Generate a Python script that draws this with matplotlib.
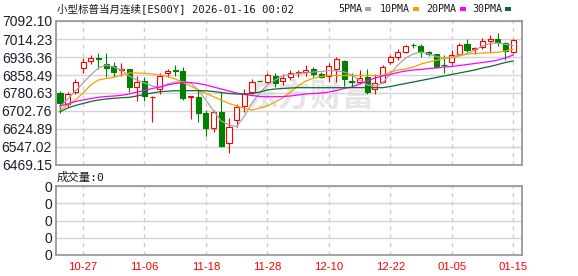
import matplotlib
matplotlib.use('Agg')
import matplotlib.pyplot as plt
from matplotlib.patches import Rectangle

# ── Data ────────────────────────────────────────────────────
dates = ['10-22', '10-23', '10-24', '10-27', '10-28', '10-29', '10-30', '10-31',
         '11-03', '11-04', '11-05', '11-06', '11-07', '11-10', '11-11', '11-12',
         '11-13', '11-14', '11-17', '11-18', '11-19', '11-20', '11-21', '11-24',
         '11-25', '11-26', '11-27', '11-28', '12-01', '12-02', '12-03', '12-04',
         '12-05', '12-08', '12-09', '12-10', '12-11', '12-12', '12-15', '12-16',
         '12-17', '12-18', '12-19', '12-22', '12-23', '12-24', '12-26', '12-29',
         '12-30', '12-31', '01-02', '01-05', '01-06', '01-07', '01-08', '01-09',
         '01-12', '01-13', '01-14', '01-15']

opens = [6778.5, 6735.2, 6783.7, 6887.5, 6916.9, 6929.9, 6906.1, 6898.7, 6880.1, 6884.5,
         6807.9, 6832.5, 6761.2, 6796.6, 6865.8, 6880.1, 6875.8, 6763.3, 6763.3, 6695.4,
         6627.9, 6699.7, 6563.0, 6661.7, 6724.4, 6782.8, 6833.4, 6829.5, 6854.2, 6833.8,
         6847.7, 6869.3, 6870.2, 6884.5, 6860.7, 6854.2, 6884.5, 6919.1, 6831.2, 6826.1,
         6851.1, 6797.9, 6828.2, 6913.4, 6934.2, 6959.3, 6989.1, 6982.6, 6958.0, 6947.2,
         6903.0, 6914.7, 6950.6, 6991.7, 6973.1, 6978.3, 7005.6, 7013.4, 6995.6, 6958.0]
highs = [6789.3, 6786.2, 6841.2, 6929.9, 6945.0, 6953.7, 6955.0, 6914.7, 6910.4, 6886.0,
         6854.2, 6849.8, 6768.9, 6867.1, 6883.2, 6899.6, 6893.1, 6767.6, 6793.6, 6705.8,
         6707.1, 6786.2, 6673.8, 6730.9, 6797.9, 6841.2, 6834.7, 6865.8, 6867.1, 6861.9,
         6880.1, 6880.1, 6903.9, 6894.4, 6872.8, 6910.4, 6936.4, 6923.4, 6865.8, 6880.1,
         6883.2, 6860.7, 6899.6, 6942.9, 6970.1, 6988.3, 6998.2, 6992.6, 6962.3, 6951.5,
         6942.9, 6966.6, 6994.8, 7012.9, 6980.9, 7019.8, 7031.5, 7041.0, 7002.5, 7013.4]
lows = [6694.1, 6720.1, 6775.0, 6869.3, 6906.1, 6886.6, 6851.1, 6848.5, 6854.2, 6786.2,
        6746.0, 6746.0, 6656.5, 6776.3, 6852.0, 6854.2, 6748.2, 6669.3, 6657.3, 6593.3,
        6613.2, 6548.3, 6522.4, 6633.5, 6698.4, 6775.0, 6830.4, 6822.6, 6806.6, 6813.9,
        6836.9, 6849.8, 6856.3, 6849.8, 6844.2, 6828.2, 6828.2, 6810.9, 6807.9, 6819.4,
        6776.3, 6775.0, 6823.9, 6906.1, 6923.4, 6955.0, 6974.0, 6937.7, 6942.0, 6892.2,
        6867.1, 6903.9, 6942.9, 6959.3, 6949.3, 6970.9, 6958.0, 6984.8, 6925.5, 6952.4]
closes = [6738.7, 6776.3, 6826.9, 6914.7, 6930.7, 6927.7, 6888.8, 6872.8, 6884.5, 6806.6,
          6828.2, 6767.7, 6764.6, 6854.2, 6875.8, 6877.1, 6760.3, 6766.3, 6695.4, 6627.9,
          6699.7, 6552.6, 6633.5, 6722.2, 6775.0, 6829.5, 6831.7, 6857.2, 6825.2, 6844.2,
          6869.3, 6872.8, 6880.1, 6862.8, 6851.1, 6895.3, 6926.9, 6841.2, 6829.1, 6844.2,
          6787.1, 6822.6, 6894.4, 6934.2, 6959.3, 6983.9, 6987.4, 6959.3, 6947.2, 6894.4,
          6900.9, 6945.0, 6989.6, 6966.6, 6976.2, 7005.6, 7012.1, 6999.1, 6962.3, 7009.9]

ma5 = [6721.4, 6754.7, 6789.3, 6823.9, 6858.5, 6888.8, 6901.7, 6893.1, 6880.1, 6854.2,
       6836.9, 6823.9, 6810.9, 6804.4, 6819.6, 6828.2, 6829.5, 6823.9, 6793.6, 6750.4,
       6702.8, 6659.5, 6642.2, 6634.8, 6681.1, 6737.4, 6780.6, 6815.3, 6836.9, 6854.2,
       6860.7, 6865.0, 6867.1, 6871.5, 6873.6, 6878.0, 6875.8, 6871.5, 6858.5, 6836.9,
       6815.3, 6810.9, 6823.9, 6862.8, 6901.7, 6932.0, 6949.3, 6958.0, 6949.3, 6938.5,
       6932.0, 6932.0, 6940.7, 6949.3, 6966.6, 6983.9, 6994.8, 6996.9, 6991.3, 6986.1]
ma10 = [6707.1, 6728.7, 6750.4, 6780.6, 6815.3, 6836.9, 6843.4, 6848.5, 6858.5, 6867.1,
        6867.1, 6865.8, 6862.8, 6858.5, 6851.9, 6841.2, 6826.1, 6810.9, 6793.6, 6778.5,
        6764.6, 6750.4, 6735.2, 6724.4, 6713.6, 6707.1, 6715.8, 6724.4, 6741.7, 6759.0,
        6784.9, 6810.9, 6832.5, 6844.2, 6851.9, 6856.3, 6856.3, 6856.3, 6856.3, 6856.3,
        6856.3, 6856.3, 6856.3, 6871.5, 6880.1, 6884.5, 6893.1, 6906.1, 6914.7, 6921.2,
        6930.7, 6936.4, 6945.0, 6949.3, 6951.5, 6953.7, 6955.0, 6956.7, 6962.3, 6969.7]
ma20 = [6724.4, 6733.0, 6743.9, 6750.4, 6756.8, 6762.0, 6765.5, 6767.6, 6770.7, 6776.3,
        6784.9, 6791.4, 6800.1, 6806.6, 6815.3, 6821.7, 6826.1, 6826.1, 6821.7, 6815.3,
        6806.6, 6797.9, 6789.3, 6780.6, 6774.1, 6769.8, 6765.5, 6764.6, 6764.6, 6765.5,
        6767.6, 6772.0, 6776.3, 6778.5, 6780.6, 6784.9, 6791.4, 6800.1, 6806.6, 6819.6,
        6832.5, 6845.5, 6854.2, 6860.7, 6869.3, 6875.8, 6880.1, 6882.3, 6886.6, 6888.8,
        6893.1, 6895.3, 6899.6, 6903.9, 6908.2, 6912.6, 6916.9, 6923.4, 6932.0, 6945.0]
ma30 = [6699.7, 6715.8, 6726.6, 6735.2, 6743.9, 6750.4, 6754.7, 6757.7, 6760.3, 6762.0,
        6767.6, 6774.1, 6780.6, 6786.2, 6788.4, 6790.1, 6790.6, 6790.6, 6790.6, 6790.1,
        6787.1, 6782.8, 6778.5, 6776.3, 6776.3, 6778.5, 6784.9, 6793.6, 6797.9, 6800.1,
        6802.3, 6803.6, 6803.6, 6803.6, 6803.6, 6803.6, 6803.6, 6803.6, 6803.6, 6803.6,
        6803.6, 6803.6, 6803.6, 6808.7, 6815.3, 6821.7, 6828.2, 6834.7, 6841.2, 6847.7,
        6854.2, 6860.7, 6867.1, 6873.6, 6880.1, 6888.8, 6895.3, 6903.9, 6912.6, 6919.1]

price_ticks = [6469.15, 6547.02, 6624.89, 6702.76, 6780.63, 6858.49, 6936.36, 7014.23, 7092.10]
volume_ticks = [0, 1, 2, 3, 4]
volume_labels = ['0', '0', '0', '0', '0']

ma_names = ['5PMA', '10PMA', '20PMA', '30PMA']
ma_colors = ['#a6a6a6', '#f5a200', '#ff00ff', '#0b6b2e']

# ── Style ────────────────────────────────────────────────────
UP = '#ff0000'
DOWN = '#008000'
TXT = '#1e1e2e'
MIXED = ['DejaVu Sans Mono', 'Noto Sans CJK SC']

W, H = 578, 276
def fx(px): return px / W
def fy(py): return 1 - py / H

fig = plt.figure(figsize=(W / 100, H / 100), dpi=100)
fig.patch.set_facecolor('white')

ax = fig.add_axes([fx(55.5), fy(165), (522 - 55.5) / W, 144 / H])
axv = fig.add_axes([fx(55.5), fy(255), (522 - 55.5) / W, 69 / H])

x = list(range(len(dates)))
tick_pos = x[3::8]
tick_lab = dates[3::8]

for a in (ax, axv):
    a.set_xlim(-0.59, 60.16)
    a.set_xticks(tick_pos)
    a.set_axisbelow(True)
    a.yaxis.grid(True, color='#d4d4d4', lw=1.0, ls='-')
    a.xaxis.grid(True, color='#cccccc', lw=1.0, ls=(0, (3, 3)))
    for s in a.spines.values():
        s.set_color('#9a9a9a')
        s.set_linewidth(1.3)
    a.tick_params(axis='both', length=0)

# ── Price panel ──────────────────────────────────────────────
ax.set_ylim(price_ticks[0], price_ticks[-1])
ax.set_yticks(price_ticks)
ax.set_yticklabels([f'{v:.2f}' for v in price_ticks],
                   fontsize=10, color=TXT, family='Liberation Sans')
ax.tick_params(axis='y', pad=2.5)
ax.tick_params(axis='x', labelbottom=False)

# watermark
ax.text(0.546, 0.47, '东方财富', transform=ax.transAxes, fontsize=23,
        fontweight='bold', color='#e6e6ea', family='Noto Sans CJK SC',
        ha='center', va='center', zorder=0.5)

body_w = 0.66
for i in x:
    o, h, l, c = opens[i], highs[i], lows[i], closes[i]
    up = c >= o
    col = UP if up else DOWN
    ax.vlines(i, l, h, color=col, lw=0.8, zorder=2)
    ax.bar(i, c - o, bottom=o, width=body_w,
           facecolor='white' if up else DOWN, edgecolor=col,
           linewidth=0.8, zorder=2.5)

for vals, colr in zip([ma5, ma10, ma20, ma30], ma_colors):
    ax.plot(x, vals, color=colr, lw=0.9, zorder=3)

# ── Volume panel ─────────────────────────────────────────────
axv.set_ylim(volume_ticks[0], volume_ticks[-1])
axv.set_yticks(volume_ticks)
axv.set_yticklabels(volume_labels, fontsize=10, color=TXT, family='Liberation Sans')
axv.tick_params(axis='y', pad=2.5)
axv.set_xticklabels(tick_lab, fontsize=8.2, color='#ff0000', family='Liberation Sans')
axv.tick_params(axis='x', pad=5)

# ── Header texts ─────────────────────────────────────────────
fig.text(fx(57), fy(8.5), '小型标普当月连续[ES00Y] 2026-01-16 00:02',
         family=MIXED, fontsize=7.6, color='#1a1a1a', va='center', ha='left')

leg_x = [338, 380, 426, 472]
box_x = [365, 413, 460, 505]
for name, colr, tx, bx in zip(ma_names, ma_colors, leg_x, box_x):
    fig.text(fx(tx), fy(8.5), name, family=MIXED, fontsize=7.2,
             color='#1a1a1a', va='center', ha='left')
    fig.add_artist(Rectangle((fx(bx), fy(10.5)), 6 / W, 4 / H,
                             transform=fig.transFigure, color=colr, lw=0))

fig.text(fx(57), fy(177), '成交量:0', family=MIXED, fontsize=8.2,
         color='#1a1a1a', va='center', ha='left')

plt.savefig('out.png', dpi=100)
